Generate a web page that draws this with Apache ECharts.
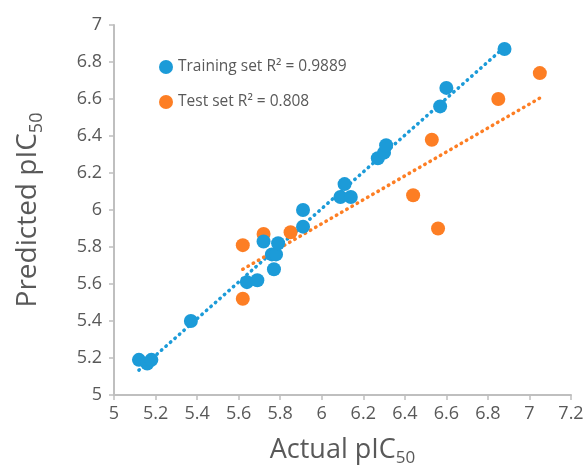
<!DOCTYPE html>
<html>
<head>
<meta charset="utf-8">
<script src="https://cdn.jsdelivr.net/npm/echarts@6/dist/echarts.min.js"></script>
<style>
  html, body { margin: 0; padding: 0; background: #fff; }
  #chart { width: 587px; height: 468px; }
</style>
</head>
<body>
<div id="chart"></div>
<script>
// training set: [actual, predicted]
var trainActual = [5.12, 5.16, 5.18, 5.37, 5.64, 5.69, 5.72, 5.77, 5.76, 5.78, 5.79, 5.91, 5.91, 6.09, 6.14, 6.11, 6.27, 6.30, 6.31, 6.57, 6.60, 6.88];
var trainPred   = [5.19, 5.17, 5.19, 5.40, 5.61, 5.62, 5.83, 5.68, 5.76, 5.76, 5.82, 5.91, 6.00, 6.07, 6.07, 6.14, 6.28, 6.31, 6.35, 6.56, 6.66, 6.87];
// test set
var testActual = [5.62, 5.62, 5.72, 5.85, 6.44, 6.53, 6.56, 6.85, 7.05];
var testPred   = [5.81, 5.52, 5.87, 5.88, 6.08, 6.38, 5.90, 6.60, 6.74];

var trainName = 'Training set R\u00b2 = 0.9889';
var testName = 'Test set R\u00b2 = 0.808';

var blue = '#1c9bd8';
var orange = '#fd7e24';

function pairs(xs, ys) {
    var out = [];
    for (var i = 0; i < xs.length; i++) out.push([xs[i], ys[i]]);
    return out;
}

// least squares trendline over the x range of the data (like Excel)
function trend(xs, ys) {
    var n = xs.length, mx = 0, my = 0;
    for (var i = 0; i < n; i++) { mx += xs[i]; my += ys[i]; }
    mx /= n; my /= n;
    var sxy = 0, sxx = 0;
    for (var i = 0; i < n; i++) {
        sxy += (xs[i] - mx) * (ys[i] - my);
        sxx += (xs[i] - mx) * (xs[i] - mx);
    }
    var b = sxy / sxx, a = my - b * mx;
    var x0 = Math.min.apply(null, xs), x1 = Math.max.apply(null, xs);
    return [[x0, a + b * x0], [x1, a + b * x1]];
}

var font = '"Open Sans", "Liberation Sans", sans-serif';
var grey = '#595959';
var axisGrey = '#bfbfbf';

var chart = echarts.init(document.getElementById('chart'));
chart.setOption({
    animation: false,
    textStyle: { fontFamily: font },
    grid: { left: 114, right: 16, top: 25, bottom: 73, outerBoundsMode: 'none', containLabel: false },
    legend: {
        orient: 'vertical',
        left: 154,
        top: 54,
        itemGap: 19,
        itemWidth: 14,
        itemHeight: 14,
        icon: 'circle',
        data: [trainName, testName],
        textStyle: { fontSize: 15.5, color: grey, fontFamily: font }
    },
    xAxis: {
        type: 'value',
        min: 5,
        max: 7.2,
        interval: 0.2,
        name: '{a|Actual pIC}{b|50}',
        nameLocation: 'middle',
        nameGap: 39,
        nameTextStyle: {
            rich: {
                a: { fontSize: 27, color: grey, fontFamily: font },
                b: { fontSize: 17, color: grey, fontFamily: font, padding: [16, 0, 0, 0] }
            }
        },
        axisLine: { onZero: false, lineStyle: { color: axisGrey, width: 2 } },
        axisTick: { show: true, length: 5, lineStyle: { color: axisGrey, width: 1.5 } },
        axisLabel: {
            margin: 10, fontSize: 18, color: grey, fontFamily: font,
            formatter: function (v) { return String(+v.toFixed(1)); }
        },
        splitLine: { show: false }
    },
    yAxis: {
        type: 'value',
        min: 5,
        max: 7,
        interval: 0.2,
        name: '{a|Predicted pIC}{b|50}',
        nameLocation: 'middle',
        nameRotate: 90,
        nameGap: 68,
        nameTextStyle: {
            rich: {
                a: { fontSize: 28, color: grey, fontFamily: font },
                b: { fontSize: 18, color: grey, fontFamily: font, padding: [17, 0, 0, 0] }
            }
        },
        axisLine: { show: true, onZero: false, lineStyle: { color: axisGrey, width: 2 } },
        axisTick: { show: true, length: 5, lineStyle: { color: axisGrey, width: 1.5 } },
        axisLabel: {
            margin: 12, fontSize: 18, color: grey, fontFamily: font,
            formatter: function (v) { return String(+v.toFixed(1)); }
        },
        splitLine: { show: false }
    },
    series: [
        {
            name: trainName,
            type: 'line',
            data: trend(trainActual, trainPred),
            showSymbol: false,
            silent: true,
            z: 1,
            lineStyle: { color: blue, width: 3.5, type: [0.5, 5.5], cap: 'round' },
            itemStyle: { color: blue }
        },
        {
            name: testName,
            type: 'line',
            data: trend(testActual, testPred),
            showSymbol: false,
            silent: true,
            z: 1,
            lineStyle: { color: orange, width: 3.5, type: [0.5, 5.5], cap: 'round' },
            itemStyle: { color: orange }
        },
        {
            name: trainName,
            type: 'scatter',
            data: pairs(trainActual, trainPred),
            symbolSize: 14,
            z: 3,
            itemStyle: { color: blue, opacity: 1 }
        },
        {
            name: testName,
            type: 'scatter',
            data: pairs(testActual, testPred),
            symbolSize: 14,
            z: 2,
            itemStyle: { color: orange, opacity: 1 }
        }
    ]
});
</script>
</body>
</html>
